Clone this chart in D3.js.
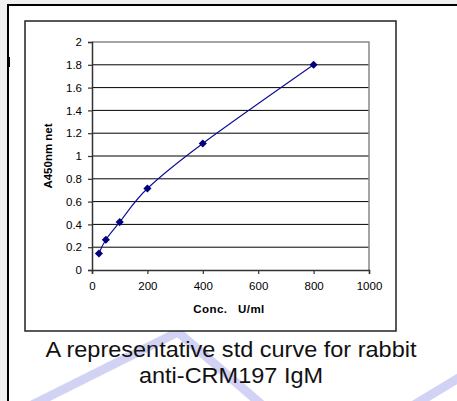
<!DOCTYPE html>
<html>
<head>
<meta charset="utf-8">
<script src="https://cdn.jsdelivr.net/npm/d3@7"></script>
<style>
  html, body { margin: 0; padding: 0; background: #f0f0f0; }
  svg { display: block; font-family: "Liberation Sans", Arial, sans-serif; }
</style>
</head>
<body>
<svg id="chart" width="457" height="401"></svg>
<script>
// standard curve values
const concentrations = [25, 50, 100, 200, 400, 800];
const absorbance = [0.145, 0.265, 0.42, 0.715, 1.11, 1.8];
const xTicks = [0, 200, 400, 600, 800, 1000];
const yTicks = [0, 0.2, 0.4, 0.6, 0.8, 1, 1.2, 1.4, 1.6, 1.8, 2];
const xTitle = 'Conc.   U/ml';
const yTitle = 'A450nm net';
const caption = ['A representative std curve for rabbit', 'anti-CRM197 IgM'];

const svg = d3.select('#chart');

// page frame
svg.append('rect')
    .attr('x', 8).attr('y', 5)
    .attr('width', 470).attr('height', 420)
    .attr('fill', '#fff')
    .attr('stroke', '#000')
    .attr('stroke-width', 2);
svg.append('rect')
    .attr('x', 7).attr('y', 57)
    .attr('width', 3).attr('height', 10)
    .attr('fill', '#000');

// faint watermark stripes behind the caption
const stripes = [
    [[32, 405], [178, 332], [262, 405]],
    [[414, 405], [462, 376]]
];
svg.append('g')
    .selectAll('path')
    .data(stripes)
    .enter()
    .append('path')
    .attr('d', d3.line())
    .attr('fill', 'none')
    .attr('stroke', '#d2d2f4')
    .attr('stroke-width', 9);

// chart box
svg.append('rect')
    .attr('x', 25).attr('y', 21)
    .attr('width', 371).attr('height', 310)
    .attr('fill', '#fff')
    .attr('stroke', '#222')
    .attr('stroke-width', 1.5);

const x = d3.scaleLinear().domain([0, 1000]).range([92, 369]);
const y = d3.scaleLinear().domain([0, 2]).range([270, 42]);

const plot = svg.append('g');

// grid lines
plot.selectAll('.grid')
    .data(yTicks.filter(v => v > 0 && v < 2))
    .enter()
    .append('line')
    .classed('grid', true)
    .attr('x1', x(0)).attr('x2', x(1000))
    .attr('y1', d => y(d)).attr('y2', d => y(d))
    .attr('stroke', '#000')
    .attr('stroke-width', 1);

// plot area border (top/right grey)
plot.append('path')
    .attr('d', `M${x(0)},${y(2)}H${x(1000)}V${y(0)}`)
    .attr('fill', 'none')
    .attr('stroke', '#888')
    .attr('stroke-width', 1.5);

const xAxis = svg.append('g')
    .attr('transform', `translate(0,${y(0)})`)
    .call(d3.axisBottom(x).tickValues(xTicks).tickSize(4).tickPadding(8).tickFormat(d3.format('d')));
const yAxis = svg.append('g')
    .attr('transform', `translate(${x(0)},0)`)
    .call(d3.axisLeft(y).tickValues(yTicks).tickSize(4).tickPadding(6).tickFormat(d => String(d)));

[xAxis, yAxis].forEach(a => {
    a.select('.domain').attr('stroke', '#333').attr('stroke-width', 1.5);
    a.selectAll('.tick line').attr('stroke', '#333').attr('stroke-width', 1.2);
    a.selectAll('.tick text')
        .attr('fill', '#000')
        .style('font-size', '11.5px')
        .style('font-family', '"Liberation Sans", Arial, sans-serif');
});

// axis titles
svg.append('text')
    .attr('x', 229).attr('y', 313)
    .attr('text-anchor', 'middle')
    .style('font-size', '11.5px')
    .style('font-weight', 'bold')
    .style('letter-spacing', '0.4px')
    .style('white-space', 'pre')
    .text(xTitle);
svg.append('text')
    .attr('transform', `translate(52,${(y(0) + y(2)) / 2}) rotate(-90)`)
    .attr('text-anchor', 'middle')
    .style('font-size', '11.5px')
    .style('font-weight', 'bold')
    .text(yTitle);

// smoothed curve and markers
const points = concentrations.map((c, i) => [c, absorbance[i]]);
plot.append('path')
    .datum(points)
    .attr('d', d3.line()
        .x(d => x(d[0]))
        .y(d => y(d[1]))
        .curve(d3.curveCatmullRom.alpha(0)))
    .attr('fill', 'none')
    .attr('stroke', '#0a0a96')
    .attr('stroke-width', 1.1);

plot.selectAll('.drop')
    .data(points)
    .enter()
    .append('path')
    .classed('drop', true)
    .attr('d', d3.symbol(d3.symbolDiamond2, 42))
    .attr('transform', d => `translate(${x(d[0])},${y(d[1])})`)
    .attr('fill', '#00007a');

// caption
svg.append('g')
    .selectAll('text')
    .data(caption)
    .enter()
    .append('text')
    .attr('transform', (d, i) => `translate(231,${357 + i * 26}) scale(1.045,1)`)
    .attr('text-anchor', 'middle')
    .style('font-size', '22.5px')
    .attr('fill', '#111')
    .text(d => d);
</script>
</body>
</html>
